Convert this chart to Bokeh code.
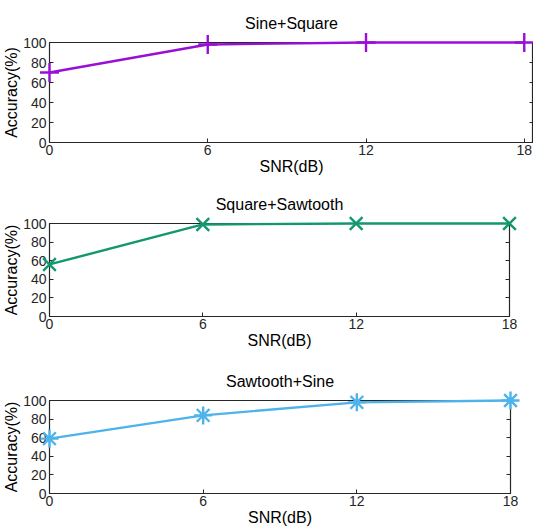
from bokeh.plotting import figure
from bokeh.layouts import column
from bokeh.models import FixedTicker, LinearAxis, Range1d
from bokeh.embed import file_html
from bokeh.resources import INLINE

snr = [0, 6, 12, 18]
acc_sine_square = [70, 98, 100, 100]
acc_square_sawtooth = [56, 99, 100, 100]
acc_sawtooth_sine = [59, 84, 98, 100]

titles = ["Sine+Square", "Square+Sawtooth", "Sawtooth+Sine"]
series = [acc_sine_square, acc_square_sawtooth, acc_sawtooth_sine]
colors = ["#9A0FD8", "#12976E", "#4DB3EA"]
markers = ["cross", "x", "asterisk"]
msizes = [19, 18, 18]
x_ticks = [0, 6, 12, 18]
y_ticks = [0, 20, 40, 60, 80, 100]

FONT = "Liberation Sans"

# layout settings per panel: (frame_width, frame_height, border_top, x_end, border_right)
panels = [
    (484, 100, 42, 18.35, 0),
    (460, 93, 46, 18, 25),
    (461, 93, 49, 18, 24),
]

figs = []
for i, (title, ys, col, mk, ms) in enumerate(zip(titles, series, colors, markers, msizes)):
    fw, fh, bt, xend, br = panels[i]
    p = figure(frame_width=fw, frame_height=fh, output_backend="svg", toolbar_location=None,
               x_range=Range1d(0, xend), y_range=Range1d(0, 100),
               min_border_left=48 if i else 49, min_border_right=br, min_border_top=bt,
               min_border_bottom=0, title=title)
    p.title.align = "center"
    p.title.text_font = FONT
    p.title.text_font_size = "16px"
    p.title.text_font_style = "normal"
    p.title.text_color = "#000000"
    p.title.standoff = 22
    p.grid.visible = False
    p.outline_line_color = "#262626"
    p.outline_line_width = 1.2
    p.outline_line_alpha = 1

    p.xaxis.ticker = FixedTicker(ticks=x_ticks)
    p.yaxis.ticker = FixedTicker(ticks=y_ticks)
    for ax in (p.xaxis[0], p.yaxis[0]):
        ax.major_tick_in = 4
        ax.major_tick_out = 0
        ax.minor_tick_line_color = None
        ax.major_tick_line_color = "#262626"
        ax.axis_line_color = "#262626"
        ax.major_label_text_font = FONT
        ax.major_label_text_font_size = "14px"
        ax.major_label_text_color = "#262626"
        ax.axis_label_text_font = FONT
        ax.axis_label_text_font_size = "16px"
        ax.axis_label_text_font_style = "normal"
        ax.axis_label_text_color = "#000000"
    p.xaxis.axis_label = "SNR(dB)"
    p.yaxis.axis_label = "Accuracy(%)"
    p.xaxis.major_label_standoff = 2
    p.xaxis.axis_label_standoff = 0
    p.yaxis.major_label_standoff = 3
    p.yaxis.axis_label_standoff = 0

    ra = LinearAxis(ticker=FixedTicker(ticks=y_ticks), major_tick_in=4, major_tick_out=0,
                    minor_tick_line_color=None, axis_line_color=None,
                    major_tick_line_color="#262626", major_label_text_font_size="1px",
                    major_label_text_color=None, major_label_standoff=0)
    p.add_layout(ra, "right")

    p.line(snr, ys, line_color=col, line_width=2.4, level="overlay")
    p.scatter(snr, ys, marker=mk, size=ms, line_color=col, fill_color=None, line_width=2.4,
              level="overlay")
    figs.append(p)

layout = column(*figs, spacing=0)
open("out.html", "w").write(file_html(layout, INLINE))
